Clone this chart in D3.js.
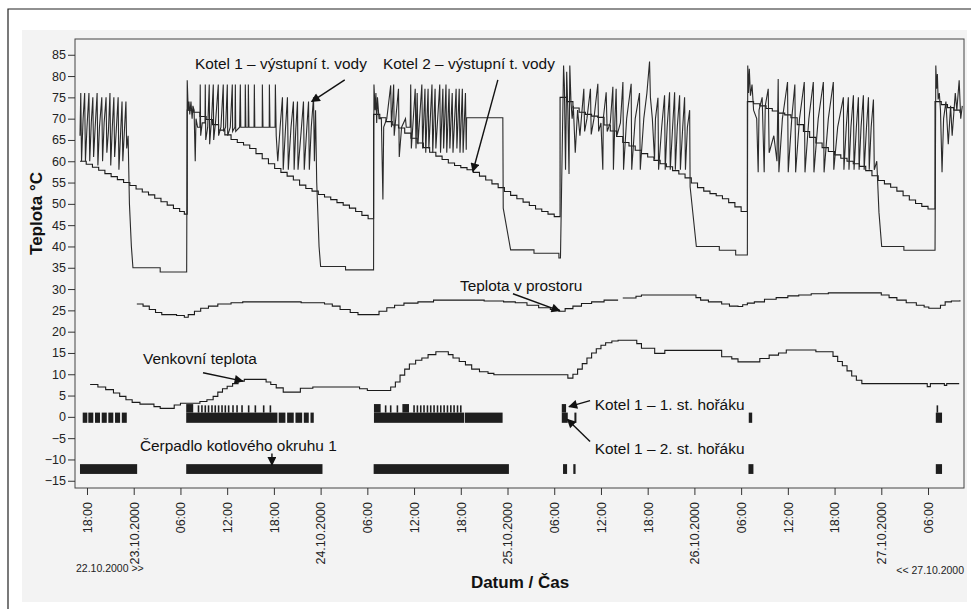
<!DOCTYPE html>
<html lang="cs">
<head>
<meta charset="UTF-8">
<title>Teplota kotelny 22.10.–27.10.2000</title>
<script src="https://d3js.org/d3.v7.min.js"></script>
<style>
  body { margin: 0; background: #fff; font-family: Arial, "Liberation Sans", sans-serif; }
  #chart { width: 971px; height: 609px; }
  .tick text { font-size: 12.5px; fill: #222; }
  .tick line { stroke: #333; }
  .note { font-family: "Liberation Sans Narrow", "Arial Narrow", Arial, sans-serif; font-size: 15.4px; fill: #111; }
  .title { font-size: 17px; font-weight: bold; fill: #111; }
  .edge { font-size: 10.5px; fill: #222; }
</style>
</head>
<body>
<div id="chart"></div>
<script>
// time = hours from 22.10.2000 00:00, values in °C
const yTicks = [85, 80, 75, 70, 65, 60, 55, 50, 45, 40, 35, 30, 25, 20, 15, 10, 5, 0, -5, -10, -15];
const startLabel = "22.10.2000 >>";
const endLabel = "<< 27.10.2000";

// Kotel 1 – výstupní teplota vody
const kotel1 = [
  [17.1,66],[17.2,76],[17.3,60],[17.5,70],[17.7,76],[17.8,60],[18.0,68],[18.25,76],[18.35,60],[18.55,69],[18.75,75],[18.85,61],
  [19.05,68],[19.3,76],[19.4,59],[19.6,68],[19.9,75],[20.0,60],[20.2,69],[20.45,75],[20.55,62],[20.75,67],[20.95,76],[21.05,59],
  [21.25,68],[21.45,75],[21.55,61],[21.75,67],[22.0,75],[22.1,58],[22.3,66],[22.5,74],[22.6,60],[22.8,67],[23.0,74],[23.1,63],
  [23.28,66],[23.45,50],[23.7,40],[23.9,35],[27.4,35],[27.4,34],[30.8,34],
  [30.87,79],[31.0,72],[31.1,74],[31.2,71],[31.35,74],[31.5,70],[31.6,73],[31.75,72],[31.9,60],[32.0,70],[32.2,68],[32.5,68],
  [32.54,78],[32.6,66],[32.8,69],[33.15,69],[33.19,78],[33.25,65],[33.5,68],[33.7,78],[33.75,64],[34.0,70],[34.22,78],[34.27,65],
  [34.5,69],[34.86,78],[34.9,66],[35.2,68],[35.5,78],[35.55,67],[35.8,68],[36.02,78],[36.07,66],[36.4,68],[36.66,78],[36.7,67],
  [37.0,68],[37.05,78],[37.1,67],[37.6,68],[37.69,78],[37.75,68],[38.3,68],[38.33,78],[38.4,68],[38.7,68],[38.72,78],[38.8,68],
  [39.45,68],[39.49,78],[39.55,68],[40.5,68],[40.52,78],[40.6,68],[41.4,68],[41.42,78],[41.5,68],[42.15,68],[42.19,78],[42.3,66],
  [42.5,60],[42.8,68],[43.1,75],[43.2,58],[43.5,68],[43.74,75],[43.85,58],[44.2,68],[44.51,74],[44.6,58],[44.8,67],[45.03,74],
  [45.1,58],[45.5,67],[45.8,74],[45.9,58],[46.2,67],[46.45,74],[46.55,58],[46.8,68],[47.09,75],[47.2,60],[47.35,72],[47.5,55],
  [47.8,40],[48.0,35.3],[51.2,35.3],[51.2,34.5],[54.8,34.5],
  [54.85,78],[55.0,72],[55.1,76],[55.2,69],[55.3,75],[55.5,70],[55.8,70],[56.0,51],[56.1,68],[56.5,70],[57.0,77.8],[57.1,68],
  [57.38,78],[57.45,66],[58.0,77],[58.1,61],[58.4,68],[58.9,70],[59.0,68],[59.5,68],[59.57,78],[59.65,63],[60.15,77],[60.25,63],
  [60.4,76],[60.5,64],[61.0,78],[61.1,63],[61.4,77],[61.5,62],[61.8,77],[61.9,63],[62.3,78],[62.4,62],[62.7,77],[62.8,63],
  [63.3,78],[63.4,62],[63.7,77],[63.8,63],[64.1,78],[64.2,62],[64.5,77],[64.6,63],[64.9,76],[65.0,62],[65.4,77],[65.5,63],
  [65.8,77],[65.9,62],[66.2,77],[66.3,62],[66.6,76],[66.7,62.7],[66.75,70.2],[71.4,70.2],[71.45,49],[72.4,39.2],[75.4,39.2],
  [75.4,38.4],[78.6,38.4],[78.6,37.3],[78.8,37.3],
  [79.0,60],[79.2,82.5],[79.3,78],[79.45,58],[79.6,81],[79.75,72],[79.9,57],[80.0,82.5],[80.15,74],[80.3,70],[80.45,73],[80.7,62],
  [81.0,72],[81.3,66],[81.8,77],[81.9,67],[82.2,70],[82.65,77],[82.75,66.3],[83.1,70],[83.6,78.2],[83.7,67],[84.0,69],[84.24,58],
  [84.3,70],[84.67,76.2],[84.8,67],[85.2,69],[85.53,77.5],[85.6,58],[85.8,70],[85.95,77],[86.05,66],[86.5,69],[86.82,78.6],[86.9,58],
  [87.3,70],[87.88,78.2],[87.95,58],[88.4,70],[88.95,76],[89.05,58],[89.5,70],[89.9,76],[90.24,83.4],[90.35,75],[90.6,70],[90.88,60.4],
  [91.0,70],[91.32,74.9],[91.4,58],[91.8,68],[92.17,75.5],[92.25,58],[92.5,68],[92.81,76.2],[92.9,58],[93.2,68],[93.46,76.2],[93.55,58],
  [93.8,68],[94.1,75.5],[94.2,58],[94.5,68],[94.74,75],[94.85,58],[95.1,68],[95.39,72],[95.45,54],[96.25,40],[99.2,40],[99.2,39.1],
  [101.3,39.1],[101.3,38],[102.8,38],
  [102.85,82.5],[102.95,76],[103.05,81.7],[103.2,75.4],[103.4,78],[103.6,72],[104.0,70],[104.19,57.4],[104.3,72],[104.7,75],
  [104.96,57.4],[105.1,73],[105.48,77],[105.6,62],[106.2,66],[106.6,60],[106.76,79.3],[106.85,57.4],[107.3,70],[107.96,78.6],
  [108.05,57.4],[108.5,70],[108.9,78],[109.0,57.4],[109.5,70],[110.11,78.6],[110.2,57.4],[110.7,70],[111.27,78.6],[111.35,57.4],
  [111.9,70],[112.56,78.6],[112.65,57.4],[113.2,70],[113.84,78.6],[113.9,58],[114.4,68],[115.13,75],[115.2,58],[115.5,68],
  [115.77,75],[115.85,58],[116.1,68],[116.42,75.5],[116.5,58],[116.8,68],[117.06,75],[117.15,58],[117.4,68],[117.7,75.5],
  [117.8,58],[118.1,68],[118.35,75],[118.45,58],[118.7,68],[118.99,74.5],[119.1,58],[119.42,60],[119.7,48],[120.05,40],
  [122.9,40],[122.9,39.1],[126.9,39.1],
  [127.0,82.5],[127.1,77],[127.2,80.5],[127.3,74.5],[127.45,76],[127.6,72],[127.8,57.4],[128.0,70],[128.3,74],[128.6,64],
  [128.9,73],[129.1,66],[129.5,76],[129.7,72],[130.0,79],[130.2,70],[130.4,73]
];

// Kotel 2 – výstupní teplota vody (stepped)
const kotel2 = [
  [17.1,60],[17.9,59.3],[18.7,58.6],[19.5,57.9],[20.3,57.1],[21.1,56.4],[21.9,55.7],[22.7,55.0],[23.5,54.3],[24.3,53.5],
  [25.1,52.8],[25.9,52.1],[26.7,51.3],[27.5,50.5],[28.3,49.7],[29.1,48.9],[29.9,48.2],[30.5,47.6],
  [30.87,72],[31.7,71.5],[32.5,70.5],[33.3,69.8],[34.1,68.6],[34.9,67.3],[35.7,66.2],[36.5,65.1],[37.3,64.4],[38.1,63.8],
  [38.9,63.0],[39.7,61.8],[40.5,60.6],[41.3,59.4],[42.1,58.3],[42.9,57.4],[43.7,56.5],[44.5,55.6],[45.3,54.4],[46.1,53.6],
  [46.9,53.0],[47.7,52.2],[48.5,51.6],[49.3,51.0],[50.1,50.3],[50.9,49.7],[51.7,49.0],[52.5,48.2],[53.3,47.3],[54.1,46.5],
  [54.8,71],[55.6,70.2],[56.4,69.3],[57.2,68.5],[58.0,67.8],[58.8,66.6],[59.6,65.4],[60.4,64.3],[61.2,63.2],[62.0,62.1],
  [62.8,61.2],[63.6,60.4],[64.4,59.6],[65.2,59.0],[66.0,58.5],[66.8,58.0],[67.6,57.4],[68.4,56.5],[69.2,55.6],[70.0,54.7],
  [70.8,53.8],[71.6,52.9],[72.4,52.0],[73.2,51.2],[74.0,50.4],[74.8,49.6],[75.6,48.8],[76.4,48.2],[77.2,47.6],[78.0,47.0],
  [78.75,75],[79.6,74],[80.4,72.5],[81.2,71.5],[82.0,71.0],[82.8,70.6],[83.6,70.3],[84.4,68.5],[85.2,67.1],[86.0,65.8],
  [86.8,64.4],[87.6,63.6],[88.4,62.6],[89.2,61.8],[90.0,61.0],[90.8,60.2],[91.6,59.4],[92.4,58.7],[93.2,57.8],[94.0,57.0],
  [94.8,56.1],[95.6,54.9],[96.4,53.8],[97.2,53.0],[98.0,52.4],[98.8,51.9],[99.6,51.2],[100.4,50.3],[101.2,49.3],[102.0,48.2],
  [102.8,74],[103.6,73.5],[104.4,73],[105.2,72.4],[106.0,71.8],[106.8,71.3],[107.6,70.9],[108.4,70.2],[109.2,68.6],[110.0,67.0],
  [110.8,65.6],[111.6,64.3],[112.4,63.2],[113.2,62.3],[114.0,61.5],[114.8,60.7],[115.6,60.0],[116.4,59.4],[117.2,58.8],[118.0,57.8],
  [118.8,56.6],[119.6,55.5],[120.4,54.7],[121.2,53.9],[122.0,53.0],[122.8,51.9],[123.6,50.9],[124.4,50.1],[125.2,49.4],[126.0,48.8],
  [126.9,74],[127.7,73.3],[128.5,72.6],[129.3,72.0],[130.1,71.4]
];

// Teplota v prostoru (stepped, gap ~86.5 h)
const room = [
  [24.4,26.5],[25.2,26.0],[26.0,25.2],[26.8,24.5],[27.6,24.0],[29.5,23.8],[30.5,23.4],[31.0,24.0],[31.8,24.8],[32.6,25.5],
  [33.6,26.0],[34.8,26.5],[36.5,26.8],[38.0,27.0],[44.0,27.0],[45.5,26.8],[48.5,26.5],[49.5,26.0],[50.5,25.2],[51.8,24.5],
  [52.8,24.0],[55.0,24.0],[55.5,24.8],[56.5,25.6],[57.5,26.2],[58.7,26.7],[60.5,27.0],[62.5,27.4],[69.0,27.2],[71.5,27.0],
  [73.0,26.8],[74.5,26.2],[76.0,25.6],[77.5,25.2],[78.6,24.8],[79.4,25.4],[80.4,26.0],[81.5,26.6],[82.8,27.0],[84.4,27.4],
  [86.2,27.4],[86.3,null],[86.8,27.9],[88.5,28.3],[89.2,28.6],[95.6,28.6],[96.2,28.0],[96.8,27.4],[97.8,27.0],[99.5,26.5],
  [100.5,26.0],[101.6,25.9],[102.2,26.3],[102.8,26.7],[103.7,27.0],[105.0,27.6],[106.5,28.0],[108.0,28.4],[109.4,28.6],[111.0,28.9],
  [113.2,29.1],[119.2,29.1],[120.0,28.6],[121.0,28.0],[122.0,27.4],[123.2,26.8],[124.5,26.2],[125.5,25.8],[126.1,25.5],[127.0,25.5],
  [127.6,26.2],[128.2,27.0],[129.0,27.2],[130.1,27.4]
];

// Venkovní teplota (stepped)
const outdoor = [
  [18.4,7.6],[19.4,7.0],[20.4,6.4],[21.4,5.6],[22.2,4.8],[23.0,4.0],[23.8,3.4],[24.8,3.0],[26.6,2.4],[27.4,2.0],[28.6,2.0],
  [29.2,2.8],[30.0,3.2],[31.5,3.2],[32.5,3.6],[33.4,4.0],[34.2,4.8],[34.8,5.8],[35.4,6.6],[36.0,7.2],[36.7,7.8],[37.4,8.4],
  [38.2,8.8],[40.3,8.8],[41.0,8.2],[41.6,7.6],[42.3,6.8],[43.2,5.8],[44.6,5.8],[45.4,6.7],[47.0,7.0],[53.0,6.6],[54.0,6.2],
  [56.6,6.2],[57.0,7.0],[57.6,8.2],[58.2,9.8],[58.8,11.2],[59.4,12.4],[60.2,13.3],[61.0,13.8],[61.8,14.6],[62.8,15.3],[63.8,15.3],
  [64.4,14.6],[65.0,13.8],[65.8,13.0],[66.6,12.2],[67.4,11.2],[68.4,10.6],[69.5,10.2],[70.25,9.9],[79.75,9.1],[80.4,10.0],
  [81.0,11.2],[81.6,12.5],[82.2,13.8],[82.8,15.0],[83.4,16.0],[84.0,16.8],[84.6,17.4],[85.4,17.8],[86.2,18.0],[88.0,18.0],
  [88.6,17.2],[89.2,16.1],[90.9,14.9],[92.2,15.6],[99.5,14.1],[100.8,13.6],[101.6,12.9],[103.6,12.9],[104.4,13.7],[105.6,14.5],
  [106.8,15.0],[107.8,15.7],[110.8,15.7],[111.6,15.3],[113.2,15.3],[113.8,14.2],[114.4,13.0],[115.0,12.0],[115.6,10.8],[116.2,9.6],
  [116.8,8.6],[117.5,7.8],[125.9,7.1],[126.3,7.8],[128.1,7.4],[128.4,7.8],[130.0,7.8]
];

// Kotel 1 – 2. st. hořáku: intervals [on, off] (lower band)
const stage2On = [
  [17.45,18.04],[18.17,18.81],[19.03,19.67],[19.89,20.54],[20.74,21.38],[21.60,22.25],[22.47,23.11],
  [30.74,42.45],[42.62,43.48],[43.70,44.55],[44.77,45.63],[45.84,46.48],[46.70,47.12],
  [54.85,66.43],[66.52,71.37],[78.97,79.74],[80.59,80.85],[102.98,103.42],[127.0,127.8]
];
// Kotel 1 – 1. st. hořáku: long runs and short pulses (upper band)
const stage1On = [[30.74,31.64],[54.85,55.71],[58.5,59.35],[78.97,79.52]];
const stage1Pulses = [
  32.32,32.76,33.19,33.61,34.05,34.47,34.9,35.34,35.76,36.19,36.75,37.27,37.91,38.76,39.62,40.69,41.55,
  56.35,57.0,57.86,60.0,60.43,60.86,61.28,61.72,62.14,62.57,63.01,63.43,63.86,64.29,64.72,65.14,65.58,66.0,127.2
];
// Čerpadlo kotlového okruhu 1
const pumpOn = [[17.1,24.44],[30.74,48.24],[54.81,72.18],[79.13,79.65],[80.45,80.74],[102.94,103.58],[127.0,127.8]];

// value bands the digital signals are drawn in
const stage1Band = [1.0, 3.0];
const stage2Band = [-1.4, 1.0];
const pumpBand = [-13.4, -11.1];

const T0 = Date.UTC(2000, 9, 22);
const toDate = h => new Date(T0 + h * 36e5);

const W = 971, H = 609;
const plot = { left: 75, top: 39, right: 964, bottom: 488 };

const svg = d3.select("#chart").append("svg").attr("width", W).attr("height", H);

// scanned page look
svg.append("rect").attr("x", 22).attr("y", 30).attr("width", 945).attr("height", 572).attr("fill", "#f3f3f3");
svg.append("path").attr("d", "M8,609V9H971").attr("fill", "none").attr("stroke", "#222").attr("stroke-width", 1.2);

const x = d3.scaleUtc().domain([toDate(16.46), toDate(130.62)]).range([plot.left, plot.right]);
const y = d3.scaleLinear().domain([-16.7, 88.7]).range([plot.bottom, plot.top]);

svg.append("rect")
  .attr("x", plot.left).attr("y", plot.top)
  .attr("width", plot.right - plot.left).attr("height", plot.bottom - plot.top)
  .attr("fill", "none").attr("stroke", "#444").attr("stroke-width", 1);

// axes
const fmtDay = d3.utcFormat("%d.%m.%Y"), fmtHour = d3.utcFormat("%H:%M");
const yAxis = svg.append("g").attr("transform", `translate(${plot.left},0)`)
  .call(d3.axisLeft(y).tickValues(yTicks).tickSize(7).tickPadding(2));
yAxis.select(".domain").remove();

const xAxis = svg.append("g").attr("transform", `translate(0,${plot.bottom})`)
  .call(d3.axisBottom(x).ticks(d3.utcHour.every(6))
    .tickFormat(d => d.getUTCHours() === 0 ? fmtDay(d) : fmtHour(d)).tickSize(7));
xAxis.select(".domain").remove();
xAxis.selectAll("text")
  .attr("transform", "rotate(-90)")
  .attr("text-anchor", "end")
  .attr("x", -14).attr("y", 0).attr("dy", "0.35em");

// lines
const px = d => x(toDate(d[0])), py = d => y(d[1]);
const lineLin = d3.line().x(px).y(py);
const lineStep = d3.line().x(px).y(py).curve(d3.curveStepAfter).defined(d => d[1] != null);

const series = svg.append("g").attr("fill", "none").attr("stroke", "#1a1a1a").attr("stroke-width", 1.1);
series.append("path").attr("d", lineStep(kotel2));
series.append("path").attr("d", lineLin(kotel1)).attr("stroke", "#2a2a2a");
series.append("path").attr("d", lineStep(room));
series.append("path").attr("d", lineStep(outdoor));

// digital signals
const bars = svg.append("g").attr("fill", "#1e1e1e");
function band(data, b) {
  bars.selectAll(null).data(data).join("rect")
    .attr("x", d => x(toDate(d[0])))
    .attr("width", d => Math.max(1.5, x(toDate(d[1])) - x(toDate(d[0]))))
    .attr("y", y(b[1]))
    .attr("height", y(b[0]) - y(b[1]));
}
band(stage2On, stage2Band);
band(stage1On, stage1Band);
band(pumpOn, pumpBand);
bars.selectAll(null).data(stage1Pulses).join("line")
  .attr("x1", d => x(toDate(d))).attr("x2", d => x(toDate(d)))
  .attr("y1", y(stage1Band[0])).attr("y2", y(stage1Band[1] - 0.3))
  .attr("stroke", "#1e1e1e").attr("stroke-width", 1.6);

// annotations
svg.append("defs").append("marker")
  .attr("id", "arrow").attr("viewBox", "0 0 10 10").attr("refX", 9).attr("refY", 5)
  .attr("markerWidth", 11).attr("markerHeight", 9).attr("markerUnits", "userSpaceOnUse")
  .attr("orient", "auto")
  .append("path").attr("d", "M0,0L10,5L0,10z").attr("fill", "#111");

const notes = [
  { text: "Kotel 1 – výstupní t. vody", at: [31.86, 81.7], from: [51.1, 79.1], to: [46.85, 74.0] },
  { text: "Kotel 2 – výstupní t. vody", at: [56.0, 81.7], from: [70.76, 79.1], to: [67.55, 57.6] },
  { text: "Teplota v prostoru", at: [65.9, 29.6], from: [72.7, 28.9], to: [78.7, 24.9] },
  { text: "Venkovní teplota", at: [25.2, 12.5], from: [32.9, 10.35], to: [38.0, 8.4] },
  { text: "Čerpadlo kotlového okruhu 1", at: [24.8, -8.0], from: [41.75, -8.6], to: [41.75, -11.3] },
  { text: "Kotel 1 – 1. st. hořáku", at: [83.2, 1.7], from: [82.6, 3.8], to: [79.9, 2.4] },
  { text: "Kotel 1 – 2. st. hořáku", at: [83.2, -8.7], from: [82.6, -5.8], to: [79.7, -0.6] }
];
const ann = svg.append("g");
notes.forEach(n => {
  ann.append("text").attr("class", "note")
    .attr("x", px(n.at)).attr("y", py(n.at)).text(n.text);
  ann.append("line")
    .attr("x1", px(n.from)).attr("y1", py(n.from))
    .attr("x2", px(n.to)).attr("y2", py(n.to))
    .attr("stroke", "#111").attr("stroke-width", 1.4)
    .attr("marker-end", "url(#arrow)");
});

// titles
svg.append("text").attr("class", "title")
  .attr("transform", `translate(42,${(plot.top + plot.bottom) / 2 - 50}) rotate(-90)`)
  .attr("text-anchor", "middle").text("Teplota °C");
svg.append("text").attr("class", "title")
  .attr("x", 520).attr("y", 588).attr("text-anchor", "middle").text("Datum / Čas");
svg.append("text").attr("class", "edge").attr("x", 76).attr("y", 572).text(startLabel);
svg.append("text").attr("class", "edge").attr("x", 964).attr("y", 574).attr("text-anchor", "end").text(endLabel);
</script>
</body>
</html>
